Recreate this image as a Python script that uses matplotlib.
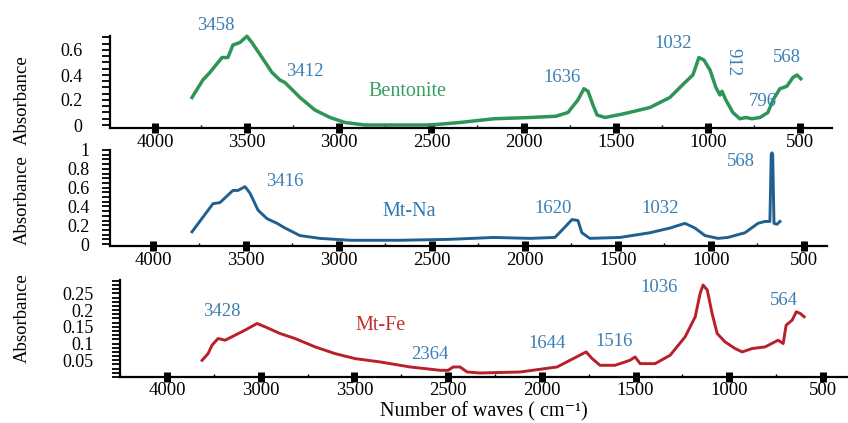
import matplotlib
matplotlib.use("Agg")
import matplotlib.pyplot as plt
from matplotlib.ticker import MultipleLocator

plt.rcParams['font.family'] = ['Liberation Serif', 'DejaVu Serif']

# --- data (wavenumber, absorbance) ---
bent_wn = [3799, 3740, 3702, 3636, 3604, 3577, 3539, 3501, 3474, 3419,
           3365, 3322, 3295, 3213, 3132, 3050, 2969, 2860, 2670, 2508,
           2345, 2161, 1965, 1824, 1759, 1705, 1672, 1650, 1623, 1601,
           1558, 1455, 1314, 1206, 1124, 1081, 1048, 1021, 988, 956,
           934, 923, 902, 864, 826, 793, 761, 717, 674, 646,
           609, 571, 538, 516, 495]
bent_ab = [0.22, 0.36, 0.42, 0.54, 0.54, 0.64, 0.66, 0.71, 0.66, 0.54,
           0.42, 0.36, 0.34, 0.22, 0.12, 0.06, 0.02, 0.0, 0.0, 0.0,
           0.02, 0.05, 0.06, 0.07, 0.10, 0.20, 0.29, 0.27, 0.16, 0.08,
           0.06, 0.09, 0.14, 0.22, 0.34, 0.40, 0.54, 0.52, 0.44, 0.30,
           0.24, 0.27, 0.20, 0.10, 0.05, 0.06, 0.05, 0.06, 0.10, 0.20,
           0.29, 0.31, 0.38, 0.40, 0.37]

na_wn = [3790, 3677, 3640, 3597, 3570, 3543, 3505, 3478, 3435, 3387,
         3333, 3290, 3210, 3102, 2941, 2672, 2403, 2167, 1973, 1839,
         1785, 1747, 1715, 1694, 1651, 1489, 1328, 1220, 1140, 1086,
         1032, 962, 909, 817, 747, 710, 683, 676, 672, 668,
         661, 645, 629]
na_ab = [0.13, 0.43, 0.44, 0.52, 0.57, 0.57, 0.61, 0.54, 0.36, 0.27,
         0.22, 0.17, 0.09, 0.06, 0.04, 0.04, 0.05, 0.07, 0.06, 0.07,
         0.18, 0.26, 0.25, 0.12, 0.06, 0.07, 0.12, 0.17, 0.22, 0.17,
         0.09, 0.06, 0.07, 0.12, 0.22, 0.24, 0.24, 0.95, 0.97, 0.95,
         0.22, 0.21, 0.24]

fe_wn = [3813, 3781, 3760, 3728, 3690, 3637, 3584, 3520, 3477, 3397,
         3317, 3210, 3104, 2997, 2863, 2703, 2543, 2500, 2474, 2437,
         2399, 2330, 2116, 1919, 1850, 1764, 1732, 1690, 1610, 1530,
         1503, 1476, 1396, 1316, 1236, 1182, 1156, 1140, 1118, 1092,
         1065, 1023, 969, 932, 879, 809, 740, 713, 697, 665,
         643, 622, 601]
fe_ab = [0.05, 0.07, 0.095, 0.115, 0.11, 0.125, 0.14, 0.16, 0.15, 0.13,
         0.115, 0.09, 0.07, 0.055, 0.045, 0.03, 0.02, 0.02, 0.03, 0.03,
         0.015, 0.012, 0.015, 0.03, 0.05, 0.075, 0.055, 0.035, 0.035, 0.05,
         0.06, 0.04, 0.04, 0.065, 0.12, 0.18, 0.25, 0.275, 0.26, 0.19,
         0.13, 0.105, 0.085, 0.075, 0.085, 0.09, 0.11, 0.10, 0.155, 0.17,
         0.195, 0.19, 0.18]

x_ticks = [4000, 3500, 3000, 2500, 2000, 1500, 1000, 500]
x_labels = ['4000', '3500', '3000', '2500', '2000', '1500', '1000', '500']
x_labels_fe = ['4000', '3000', '3500', '2500', '2000', '1500', '1000', '500']

top_yticks = [0, 0.2, 0.4, 0.6]
top_ylabels = ['0', '0.2', '0.4', '0.6']
mid_yticks = [0, 0.2, 0.4, 0.6, 0.8, 1.0]
mid_ylabels = ['0', '0.2', '0.4', '0.6', '0.8', '1']
bot_yticks = [0.05, 0.1, 0.15, 0.2, 0.25]
bot_ylabels = ['0.05', '0.1', '0.15', '0.2', '0.25']

GREEN = '#2e9457'
BLUE = '#1f6090'
RED = '#b8202a'
ANN = '#3a7fb5'

W, H = 848, 423
fig = plt.figure(figsize=(W / 100, H / 100), dpi=100)


def rect(x0, x1, ytop, ybot):
    return [x0 / W, 1 - ybot / H, (x1 - x0) / W, (ybot - ytop) / H]


def px(x, y):
    return x / W, 1 - y / H


def style(ax, xlim, ylim, yticks, ylabels, xlabels, yminor, ypad):
    ax.set_xlim(*xlim)
    ax.set_ylim(*ylim)
    for s in ['top', 'right']:
        ax.spines[s].set_visible(False)
    for s in ['left', 'bottom']:
        ax.spines[s].set_linewidth(1.6)
    ax.set_xticks(x_ticks)
    ax.set_xticklabels(xlabels)
    ax.set_yticks(yticks)
    ax.set_yticklabels(ylabels)
    ax.yaxis.set_minor_locator(MultipleLocator(yminor))
    ax.xaxis.set_minor_locator(MultipleLocator(250))
    ax.tick_params(axis='x', which='major', direction='inout', length=7,
                   width=5, labelsize=13.5, pad=1)
    ax.tick_params(axis='x', which='minor', direction='in', length=2, width=1)
    ax.tick_params(axis='y', which='both', direction='out', length=6,
                   width=1.3, labelsize=13, pad=ypad)
    ax.patch.set_alpha(0)


# top: Bentonite
ax1 = fig.add_axes(rect(110, 832, 36, 128))
ax1.plot(bent_wn, bent_ab, color=GREEN, lw=2.5, clip_on=False)
style(ax1, (4244, 326), (-0.024, 0.712), top_yticks, top_ylabels, x_labels, 0.05, 14)

# middle: Mt-Na
ax2 = fig.add_axes(rect(110, 827, 150, 246))
ax2.plot(na_wn, na_ab, color=BLUE, lw=2.1, clip_on=False)
style(ax2, (4231, 376), (-0.021, 0.99), mid_yticks, mid_ylabels, x_labels, 0.05, 9)

# bottom: Mt-Fe
ax3 = fig.add_axes(rect(120, 848, 280, 377))
ax3.plot(fe_wn, fe_ab, color=RED, lw=2.1, clip_on=False)
style(ax3, (4251, 367), (0, 0.29), bot_yticks, bot_ylabels, x_labels_fe, 0.0125, 13)
ax3.tick_params(axis='x', which='major', pad=0)

# y labels
for yc in [100, 200, 318]:
    fig.text(*px(22, yc), 'Absorbance', rotation=90, ha='center', va='center',
             fontsize=13.5)

fig.text(*px(484, 412), 'Number of waves ( cm\u207b\u00b9)', ha='center',
         va='center', fontsize=14.5)

# sample names
fig.text(*px(407, 92), 'Bentonite', color='#35a060', ha='center', va='center', fontsize=14.5)
fig.text(*px(409, 212), 'Mt-Na', color='#2f78b0', ha='center', va='center', fontsize=14.5)
fig.text(*px(381, 325), 'Mt-Fe', color='#c0302e', ha='center', va='center', fontsize=14.5)

# peak annotations
peaks = [
    (216, 26, '3458', 0), (305, 71, '3412', 0), (562, 77, '1636', 0),
    (673, 44, '1032', 0), (733, 62, '912', -90), (763, 101, '796', 0),
    (787, 58, '568', 0),
    (285, 181, '3416', 0), (553, 208, '1620', 0), (660, 208, '1032', 0),
    (741, 162, '568', 0),
    (222, 311, '3428', 0), (430, 354, '2364', 0), (547, 344, '1644', 0),
    (614, 342, '1516', 0), (659, 288, '1036', 0), (784, 300, '564', 0),
]
for x, y, t, r in peaks:
    fig.text(*px(x, y), t, color=ANN, ha='center', va='center',
             fontsize=13.5, rotation=r)

fig.savefig('out.png', dpi=100, facecolor='white')
